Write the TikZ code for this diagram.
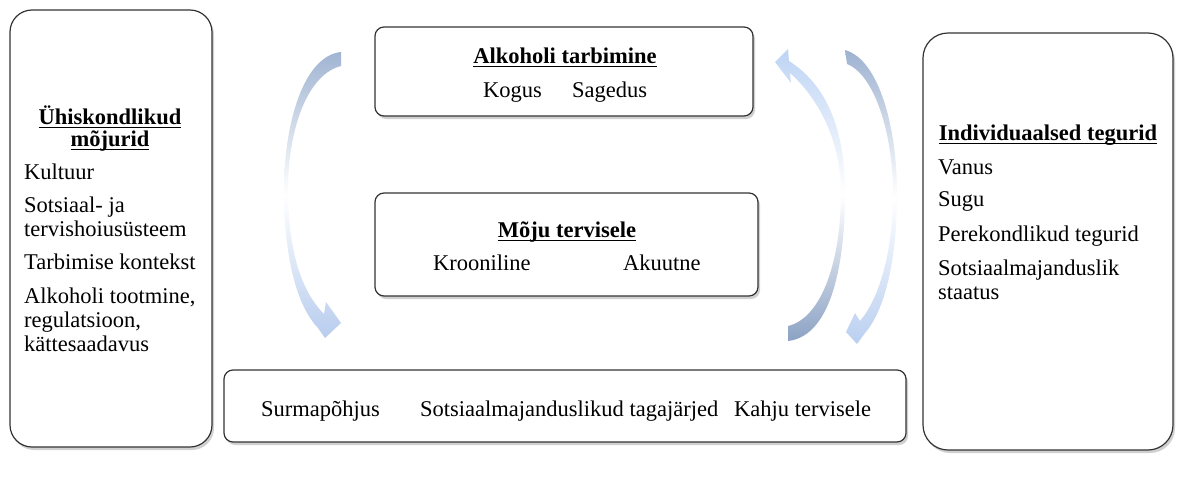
\documentclass[tikz,border=0pt]{standalone}
\usepackage{fontspec}
\setmainfont{Liberation Serif}
\newfontfamily\tnr{Liberation Serif}
\newsavebox\ulbox
\newcommand\myul[1]{\sbox\ulbox{#1}\rlap{\usebox\ulbox}\rule[-3.8pt]{\wd\ulbox}{1.1pt}}
\usetikzlibrary{shadows}
\begin{document}
\begin{tikzpicture}[x=1pt,y=-1pt,
  box/.style={draw=black!80, line width=1.2pt, fill=white,
    drop shadow={shadow xshift=2pt, shadow yshift=-3pt, opacity=0.3, fill=black!60}},
  txt/.style={inner sep=0pt, font=\tnr\fontsize{22.5}{25}\selectfont},
  hd/.style={inner sep=0pt, font=\tnr\fontsize{22.5}{25}\selectfont\bfseries}]
\useasboundingbox[fill=white] (0,0) rectangle (1188,477);

% boxes
\node[box, rounded corners=22pt, minimum width=202pt, minimum height=437pt] (soc) at (111,228.5) {};
\node[box, rounded corners=9pt, minimum width=378pt, minimum height=89pt] (tarb) at (564,71.5) {};
\node[box, rounded corners=9pt, minimum width=383pt, minimum height=103pt] (moju) at (566.5,244.5) {};
\node[box, rounded corners=9pt, minimum width=682pt, minimum height=72pt] (tag) at (565,406) {};
\node[box, rounded corners=25pt, minimum width=250pt, minimum height=417pt] (ind) at (1048,241.5) {};

% curved arrows
\shade[top color={rgb,255:red,160;green,180;blue,210}, bottom color={rgb,255:red,184;green,204;blue,238}, middle color=white]
  (341,52) .. controls (303,56) and (284,125) .. (284,190)
  .. controls (284,255) and (296,305) .. (318,328)
  -- (325,338) -- (341,323) -- (326,302) -- (324,314)
  .. controls (301,291) and (288,250) .. (288,190)
  .. controls (288,128) and (308,74) .. (341,66) -- cycle;

\shade[top color={rgb,255:red,190;green,212;blue,244}, bottom color={rgb,255:red,140;green,162;blue,196}, middle color=white]
  (788,341) .. controls (832,336) and (845,262) .. (845,193)
  .. controls (845,122) and (822,82) .. (789,61)
  -- (788,49) -- (775,62) -- (791,83) -- (790,73)
  .. controls (818,98) and (841,140) .. (841,193)
  .. controls (841,260) and (822,318) .. (788,326) -- cycle;

\shade[top color={rgb,255:red,158;green,178;blue,209}, bottom color={rgb,255:red,186;green,207;blue,240}, middle color=white]
  (845,50) .. controls (880,60) and (897,130) .. (897,193)
  .. controls (897,260) and (885,310) .. (865,333)
  -- (857,344) -- (846,332) -- (855,313) -- (860,321)
  .. controls (878,300) and (893,255) .. (893,193)
  .. controls (893,135) and (875,75) .. (847,64) -- cycle;

% left box text
\node[hd, anchor=base] (socH1) at (110,124) {\myul{Ühiskondlikud}};
\node[hd, anchor=base] (socH2) at (110,146) {\myul{mõjurid}};
\node[txt, anchor=base west] (s1) at (24,179) {Kultuur};
\node[txt, anchor=base west] (s2a) at (24,212) {Sotsiaal- ja};
\node[txt, anchor=base west] (s2b) at (24,236) {tervishoiusüsteem};
\node[txt, anchor=base west] (s3) at (24,269) {Tarbimise kontekst};
\node[txt, anchor=base west] (s4a) at (24,303) {Alkoholi tootmine,};
\node[txt, anchor=base west] (s4b) at (24,327) {regulatsioon,};
\node[txt, anchor=base west] (s4c) at (24,351) {kättesaadavus};

% centre boxes text
\node[hd, anchor=base] (tarbH) at (565,63) {\myul{Alkoholi tarbimine}};
\node[txt, anchor=base west] (t1) at (483,97) {Kogus};
\node[txt, anchor=base west] (t2) at (572,97) {Sagedus};
\node[hd, anchor=base] (mojuH) at (567,237) {\myul{Mõju tervisele}};
\node[txt, anchor=base west] (m1) at (433,270) {Krooniline};
\node[txt, anchor=base west] (m2) at (623,270) {Akuutne};

% bottom box text
\node[txt, anchor=base west] (b1) at (261,416) {Surmapõhjus};
\node[txt, anchor=base west] (b2) at (420,416) {Sotsiaalmajanduslikud tagajärjed};
\node[txt, anchor=base west] (b3) at (734,416) {Kahju tervisele};

% right box text
\node[hd, anchor=base] (indH) at (1048,140) {\myul{Individuaalsed tegurid}};
\node[txt, anchor=base west] (i1) at (938,174) {Vanus};
\node[txt, anchor=base west] (i2) at (938,206) {Sugu};
\node[txt, anchor=base west] (i3) at (938,241) {Perekondlikud tegurid};
\node[txt, anchor=base west] (i4a) at (938,275) {Sotsiaalmajanduslik};
\node[txt, anchor=base west] (i4b) at (938,299) {staatus};
\end{tikzpicture}
\end{document}
